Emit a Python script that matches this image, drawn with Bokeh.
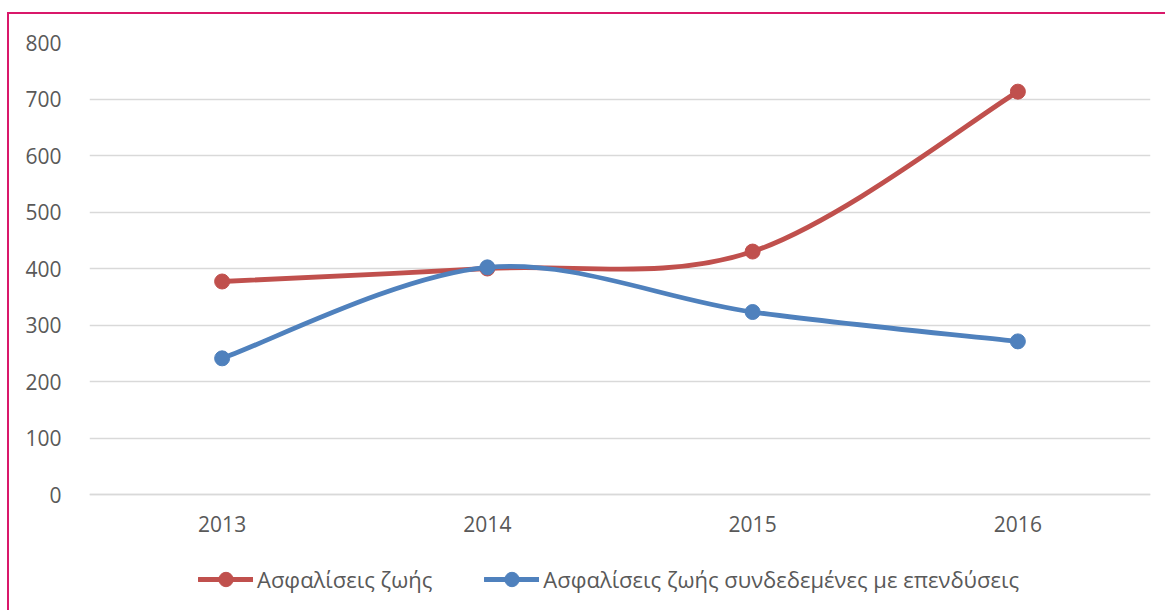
from bokeh.plotting import figure
from bokeh.models import (Range1d, FixedTicker, Legend, LegendItem, ColumnDataSource)
from bokeh.embed import file_html
from bokeh.resources import INLINE

years = ["2013", "2014", "2015", "2016"]
life = [377, 400, 430, 713]
unit_linked = [241, 402, 323, 271]
series_names = ["Ασφαλίσεις ζωής", "Ασφαλίσεις ζωής συνδεδεμένες με επενδύσεις"]
series_colors = ["#C0504D", "#4F81BD"]
y_ticks = [0, 100, 200, 300, 400, 500, 600, 700, 800]

FONT = "Open Sans"
TXT = "#595959"
GRID = "#D9D9D9"
BORDER = "#D9186A"

# layout (canvas pixels): frame runs from the top gridline to the canvas bottom,
# the value axis zero sits ZERO_PX below the frame top
W, H = 1158, 598
TOP = 28
ZERO_PX = 452          # distance from top gridline to zero line
FRAME_H = H - TOP
y_lo = y_ticks[-1] - (y_ticks[-1] - y_ticks[0]) * FRAME_H / ZERO_PX

p = figure(width=W, height=H, output_backend="svg", toolbar_location=None,
           x_range=Range1d(0, len(years)), y_range=Range1d(y_lo, y_ticks[-1]),
           min_border_left=80, min_border_right=17, min_border_top=TOP,
           min_border_bottom=0)
p.outline_line_color = None
p.background_fill_color = "white"
p.border_fill_color = "white"
p.styles = {"margin-left": "7px", "margin-top": "12px",
            "border-left": f"2px solid {BORDER}", "border-top": f"2px solid {BORDER}"}

xpos = [i + 0.5 for i in range(len(years))]

def smooth_segments(xs, ys):
    n = len(xs)
    px = [xs[0]] + list(xs) + [xs[-1]]
    py = [ys[0]] + list(ys) + [ys[-1]]
    d = dict(x0=[], y0=[], x1=[], y1=[], cx0=[], cy0=[], cx1=[], cy1=[])
    for i in range(1, n):
        d["x0"].append(px[i]); d["y0"].append(py[i])
        d["x1"].append(px[i + 1]); d["y1"].append(py[i + 1])
        d["cx0"].append(px[i] + (px[i + 1] - px[i - 1]) / 6)
        d["cy0"].append(py[i] + (py[i + 1] - py[i - 1]) / 6)
        d["cx1"].append(px[i + 1] - (px[i + 2] - px[i]) / 6)
        d["cy1"].append(py[i + 1] - (py[i + 2] - py[i]) / 6)
    return ColumnDataSource(d)

items = []
for vals, name, col in zip([life, unit_linked], series_names, series_colors):
    src = smooth_segments(xpos, vals)
    br = p.bezier(x0="x0", y0="y0", x1="x1", y1="y1", cx0="cx0", cy0="cy0",
                  cx1="cx1", cy1="cy1", source=src, line_color=col, line_width=4.8,
                  line_cap="round")
    sr = p.scatter(xpos, vals, marker="circle", size=15, fill_color=col, line_color=col)
    items.append(LegendItem(label=name, renderers=[br, sr]))

# axes
p.xaxis.fixed_location = 0
p.xaxis.ticker = FixedTicker(ticks=xpos)
p.xaxis.major_label_overrides = {x: y for x, y in zip(xpos, years)}
p.xaxis.axis_line_color = GRID
p.xaxis.axis_line_width = 1.5
p.xaxis.major_tick_line_color = None
p.xaxis.minor_tick_line_color = None
p.xaxis.major_label_standoff = 15
p.yaxis.ticker = FixedTicker(ticks=y_ticks)
p.yaxis.axis_line_color = None
p.yaxis.major_tick_line_color = None
p.yaxis.minor_tick_line_color = None
p.yaxis.major_label_standoff = 22
for ax in (p.xaxis, p.yaxis):
    ax.major_label_text_font = FONT
    ax.major_label_text_font_size = "21px"
    ax.major_label_text_color = TXT
p.xgrid.grid_line_color = None
p.ygrid.grid_line_color = GRID
p.ygrid.grid_line_width = 1.5

legend = Legend(items=items, orientation="horizontal", location=(109, 15),
                glyph_width=55, glyph_height=36, label_standoff=4, spacing=52,
                padding=0, margin=0, border_line_alpha=0, background_fill_alpha=0,
                label_text_font=FONT, label_text_font_size="22px",
                label_text_color=TXT)
p.add_layout(legend)

open("out.html", "w").write(file_html(p, INLINE))
